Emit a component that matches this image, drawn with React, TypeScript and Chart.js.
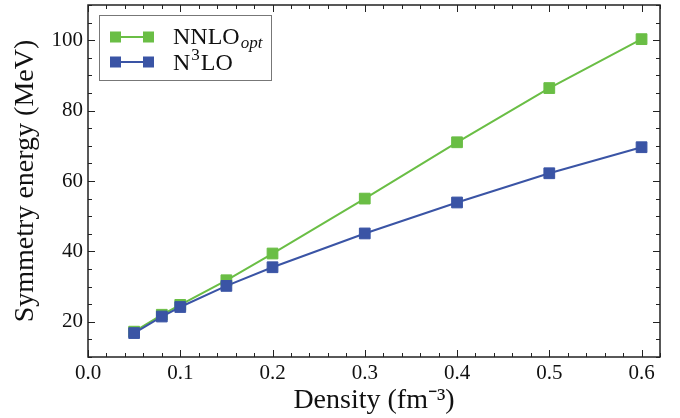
import React, { useEffect, useRef } from "react";
import { Chart, registerables } from "chart.js";

Chart.register(...registerables);

// Data
const densities = [0.05, 0.08, 0.1, 0.15, 0.2, 0.3, 0.4, 0.5, 0.6];
const nnloOpt = [17.2, 22.0, 24.8, 31.8, 39.4, 55.0, 71.0, 86.4, 100.3];
const n3lo = [16.8, 21.5, 24.2, 30.2, 35.5, 45.1, 53.9, 62.2, 69.6];
const xTickValues = [0, 0.1, 0.2, 0.3, 0.4, 0.5, 0.6];
const yTickValues = [20, 40, 60, 80, 100];

const GREEN = "#6abe45";
const BLUE = "#3a54a5";
const FONT = "'Liberation Serif', 'Times New Roman', serif";
const TEXT = "#111";

const frameTicks = {
  id: "frameTicks",
  afterDraw(chart: any) {
    const { ctx, chartArea, scales } = chart;
    const { left, right, top, bottom } = chartArea;
    const x = scales.x;
    const y = scales.y;
    ctx.save();
    ctx.strokeStyle = "#222";
    ctx.lineWidth = 1;
    // x ticks: minor every 0.02, major every 0.1
    for (let i = 0; i <= 31; i++) {
      const v = i * 0.02;
      if (v > x.max + 1e-9) break;
      const px = Math.round(x.getPixelForValue(v)) + 0.5;
      const len = i % 5 === 0 ? 7 : 4;
      ctx.beginPath();
      ctx.moveTo(px, bottom);
      ctx.lineTo(px, bottom - len);
      ctx.moveTo(px, top);
      ctx.lineTo(px, top + len);
      ctx.stroke();
    }
    // y ticks: minor every 5, major every 20
    for (let v = 10; v <= y.max + 1e-9; v += 5) {
      const py = Math.round(y.getPixelForValue(v)) + 0.5;
      const len = v % 20 === 0 ? 7 : 4;
      ctx.beginPath();
      ctx.moveTo(left, py);
      ctx.lineTo(left + len, py);
      ctx.moveTo(right, py);
      ctx.lineTo(right - len, py);
      ctx.stroke();
    }
    ctx.lineWidth = 1.5;
    ctx.strokeRect(left, top, right - left, bottom - top);
    ctx.restore();
  },
};

const customLegend = {
  id: "customLegend",
  afterDraw(chart: any) {
    const { ctx, chartArea } = chart;
    const bx = chartArea.left + 11;
    const by = chartArea.top + 10;
    const bw = 172;
    const bh = 65;
    ctx.save();
    ctx.fillStyle = "#fff";
    ctx.fillRect(bx, by, bw, bh);
    ctx.strokeStyle = "#777";
    ctx.lineWidth = 1;
    ctx.strokeRect(bx + 0.5, by + 0.5, bw, bh);

    const rows = [
      { color: GREEN, y: by + 22 },
      { color: BLUE, y: by + 47 },
    ];
    rows.forEach((r) => {
      ctx.strokeStyle = r.color;
      ctx.lineWidth = 2;
      ctx.beginPath();
      ctx.moveTo(bx + 16, r.y);
      ctx.lineTo(bx + 49, r.y);
      ctx.stroke();
      ctx.fillStyle = r.color;
      ctx.fillRect(bx + 11, r.y - 5.5, 11, 11);
      ctx.fillRect(bx + 44, r.y - 5.5, 11, 11);
    });

    ctx.fillStyle = TEXT;
    ctx.textBaseline = "alphabetic";
    ctx.textAlign = "left";
    const tx = bx + 74;
    // NNLO_opt
    ctx.font = `24px ${FONT}`;
    ctx.fillText("NNLO", tx, rows[0].y + 7);
    const w1 = ctx.measureText("NNLO").width;
    ctx.font = `italic 17px ${FONT}`;
    ctx.fillText("opt", tx + w1 + 1, rows[0].y + 11);
    // N^3LO
    ctx.font = `24px ${FONT}`;
    ctx.fillText("N", tx, rows[1].y + 8);
    const wn = ctx.measureText("N").width;
    ctx.font = `17px ${FONT}`;
    ctx.fillText("3", tx + wn + 1, rows[1].y - 2);
    const w3 = ctx.measureText("3").width;
    ctx.font = `24px ${FONT}`;
    ctx.fillText("LO", tx + wn + w3 + 2, rows[1].y + 8);
    ctx.restore();
  },
};

const zeroPad = (s: any) => {
  s.paddingTop = 0;
  s.paddingBottom = 0;
  s.paddingLeft = 0;
  s.paddingRight = 0;
};

export default function App() {
  const ref = useRef<HTMLCanvasElement | null>(null);
  useEffect(() => {
    if (!ref.current) return;
    const chart = new Chart(ref.current, {
      type: "line",
      data: {
        datasets: [
          {
            label: "NNLO_opt",
            data: densities.map((d, i) => ({ x: d, y: nnloOpt[i] })),
            borderColor: GREEN,
            backgroundColor: GREEN,
            borderWidth: 2,
            pointStyle: "rect",
            pointRadius: 7.6,
            pointBorderWidth: 1,
            pointBackgroundColor: GREEN,
            pointBorderColor: GREEN,
            order: 2,
          },
          {
            label: "N3LO",
            data: densities.map((d, i) => ({ x: d, y: n3lo[i] })),
            borderColor: BLUE,
            backgroundColor: BLUE,
            borderWidth: 2,
            pointStyle: "rect",
            pointRadius: 7.6,
            pointBorderWidth: 1,
            pointBackgroundColor: BLUE,
            pointBorderColor: BLUE,
            order: 1,
          },
        ],
      },
      options: {
        responsive: false,
        animation: false,
        layout: { autoPadding: false, padding: { top: 5, right: 20, left: 0, bottom: 0 } },
        plugins: {
          legend: { display: false },
          tooltip: { enabled: false },
        },
        scales: {
          x: {
            type: "linear",
            min: 0,
            max: 0.62,
            grid: { display: false, drawTicks: false },
            border: { display: false },
            afterBuildTicks: (s: any) => {
              s.ticks = xTickValues.map((v) => ({ value: v }));
            },
            afterFit: (s: any) => {
              s.height = 61;
              zeroPad(s);
            },
            ticks: {
              padding: 4,
              color: TEXT,
              font: { family: FONT, size: 21 },
              maxRotation: 0,
              callback: (v: any) => Number(v).toFixed(1),
            },
            title: {
              display: true,
              text: "Density (fm⁻³)",
              color: TEXT,
              font: { family: FONT, size: 28 },
              padding: { top: 0, bottom: 1 },
            },
          },
          y: {
            type: "linear",
            min: 10,
            max: 110,
            grid: { display: false, drawTicks: false },
            border: { display: false },
            afterBuildTicks: (s: any) => {
              s.ticks = yTickValues.map((v) => ({ value: v }));
            },
            afterFit: (s: any) => {
              s.width = 88;
              zeroPad(s);
            },
            ticks: {
              padding: 5,
              color: TEXT,
              font: { family: FONT, size: 21 },
              callback: (v: any) => String(v),
            },
            title: {
              display: true,
              text: "Symmetry energy (MeV)",
              color: TEXT,
              font: { family: FONT, size: 28 },
              padding: { top: 9, bottom: 0 },
            },
          },
        },
      },
      plugins: [frameTicks, customLegend],
    });
    return () => chart.destroy();
  }, []);
  return (
    <div style={{ position: "absolute", left: 0, top: 0, width: 680, height: 418, background: "#fff" }}>
      <canvas ref={ref} width={680} height={418} style={{ display: "block" }} />
    </div>
  );
}
